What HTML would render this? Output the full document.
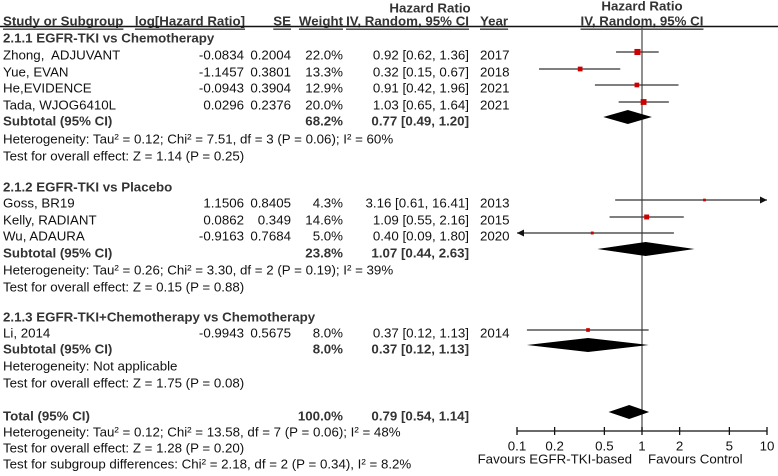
<!DOCTYPE html>
<html><head><meta charset="utf-8"><style>
html,body{margin:0;padding:0;background:#fff;}
svg{display:block;font-family:"Liberation Sans",Arial,sans-serif;font-size:13.3px;}
.b{font-weight:bold;fill:#333;}
text{fill:#111;}
</style></head><body>
<svg id="chart" width="778" height="476" viewBox="0 0 778 476" xmlns="http://www.w3.org/2000/svg">
<g>
<text class="b" x="430" y="8" text-anchor="middle" dominant-baseline="central">Hazard Ratio</text>
<text class="b" x="3" y="21" dominant-baseline="central" text-decoration="underline">Study or Subgroup</text>
<text class="b" x="245" y="21" text-anchor="end" dominant-baseline="central" text-decoration="underline">log[Hazard Ratio]</text>
<text class="b" x="291" y="21" text-anchor="end" dominant-baseline="central" text-decoration="underline">SE</text>
<text class="b" x="343" y="21" text-anchor="end" dominant-baseline="central" text-decoration="underline">Weight</text>
<text class="b" x="469" y="21" text-anchor="end" dominant-baseline="central" text-decoration="underline">IV, Random, 95% CI</text>
<text class="b" x="480" y="21" dominant-baseline="central" text-decoration="underline">Year</text>
<text class="b" x="642" y="6" text-anchor="middle" dominant-baseline="central">Hazard Ratio</text>
<text class="b" x="642" y="21" text-anchor="middle" dominant-baseline="central" text-decoration="underline">IV, Random, 95% CI</text>
</g>
<line x1="0" y1="26.5" x2="778" y2="26.5" stroke="#111" stroke-width="1.5"/>
<line x1="642" y1="27" x2="642" y2="431" stroke="#555" stroke-width="1.3"/>
<g id="text-layer"></g>
<g id="marks"></g>
<g id="axis"></g>
</svg>
<script>
const studies = ["Zhong,\u00a0 ADJUVANT","Yue, EVAN","He,EVIDENCE","Tada, WJOG6410L","Goss, BR19","Kelly, RADIANT","Wu, ADAURA","Li, 2014"];
const logHR = ["-0.0834","-1.1457","-0.0943","0.0296","1.1506","0.0862","-0.9163","-0.9943"];
const seVals = ["0.2004","0.3801","0.3904","0.2376","0.8405","0.349","0.7684","0.5675"];
const weights = [22.0,13.3,12.9,20.0,4.3,14.6,5.0,8.0];
const hr = [0.92,0.32,0.91,1.03,3.16,1.09,0.40,0.37];
const lo = [0.62,0.15,0.42,0.65,0.61,0.55,0.09,0.12];
const hi = [1.36,0.67,1.96,1.64,16.41,2.16,1.80,1.13];
const years = ["2017","2018","2021","2021","2013","2015","2020","2014"];
const studyRowY = [55,72,88,105,203,220,236,333];
const subNames = ["Subtotal (95% CI)","Subtotal (95% CI)","Subtotal (95% CI)","Total (95% CI)"];
const subWeights = ["68.2%","23.8%","8.0%","100.0%"];
const subHR = [0.77,1.07,0.37,0.79];
const subLo = [0.49,0.44,0.12,0.54];
const subHi = [1.20,2.63,1.13,1.14];
const subRowY = [121,253,349,416];
const ticks = [0.1,0.2,0.5,1,2,5,10];
const tickLabels = ["0.1","0.2","0.5","1","2","5","10"];
const notes = [
 [38,"2.1.1 EGFR-TKI vs Chemotherapy",true],
 [139,"Heterogeneity: Tau² = 0.12; Chi² = 7.51, df = 3 (P = 0.06); I² = 60%",false],
 [156,"Test for overall effect: Z = 1.14 (P = 0.25)",false],
 [187,"2.1.2 EGFR-TKI vs Placebo",true],
 [270,"Heterogeneity: Tau² = 0.26; Chi² = 3.30, df = 2 (P = 0.19); I² = 39%",false],
 [287,"Test for overall effect: Z = 0.15 (P = 0.88)",false],
 [317,"2.1.3 EGFR-TKI+Chemotherapy vs Chemotherapy",true],
 [366,"Heterogeneity: Not applicable",false],
 [383,"Test for overall effect: Z = 1.75 (P = 0.08)",false],
 [432,"Heterogeneity: Tau² = 0.12; Chi² = 13.58, df = 7 (P = 0.06); I² = 48%",false],
 [448,"Test for overall effect: Z = 1.28 (P = 0.20)",false],
 [464,"Test for subgroup differences: Chi² = 2.18, df = 2 (P = 0.34), I² = 8.2%",false]
];
const NS="http://www.w3.org/2000/svg";
const X0=642, DEC=125, XMIN=517, XMAX=767, AXY=431;
function xs(v){return X0+DEC*Math.log10(v);}
function fmt(v){return v.toFixed(2);}
function mk(tag,attrs,parent,txt){const e=document.createElementNS(NS,tag);for(const k in attrs)e.setAttribute(k,attrs[k]);if(txt!==undefined)e.textContent=txt;parent.appendChild(e);return e;}
const T=document.getElementById('text-layer'), M=document.getElementById('marks'), A=document.getElementById('axis');
function txt(x,y,s,anchor,bold,name){const e=mk('text',{x:x,y:y,'text-anchor':anchor||'start','dominant-baseline':'central'},T,s);if(bold)e.setAttribute('class','b');


return e;}
notes.forEach(n=>{txt(3,n[0],n[1],'start',n[2],n[2]?'subgroup-title':'stat-note');});
studies.forEach((s,i)=>{const y=studyRowY[i];
 txt(3,y,s,'start',false,'study-name');
 txt(244,y,logHR[i],'end',false,'log-hr-value');
 txt(291,y,seVals[i],'end',false,'se-value');
 txt(343,y,weights[i].toFixed(1)+'%','end',false,'weight-value');
 txt(469,y,fmt(hr[i])+' ['+fmt(lo[i])+', '+fmt(hi[i])+']','end',false,'hr-ci-value');
 txt(480,y,years[i],'start',false,'study-year');
 const my=y-3;
 const x1=Math.max(XMIN,xs(lo[i])), x2=Math.min(XMAX,xs(hi[i]));
 const ln=mk('line',{x1:x1,y1:my,x2:x2,y2:my,stroke:'#333','stroke-width':1.3},M);
 
 
 if(hi[i]>10){const p=mk('polygon',{points:(XMAX)+','+my+' '+(XMAX-7)+','+(my-3.5)+' '+(XMAX-7)+','+(my+3.5),fill:'#111'},M);
  
  }
 if(lo[i]<0.1){const p=mk('polygon',{points:(XMIN)+','+my+' '+(XMIN+7)+','+(my-3.5)+' '+(XMIN+7)+','+(my+3.5),fill:'#111'},M);
  
  }
 const sz=Math.sqrt(weights[i])*1.3;
 const r=mk('rect',{x:xs(hr[i])-sz/2,y:my-sz/2,width:sz,height:sz,fill:'#cc0000'},M);
 
 
});
subNames.forEach((s,i)=>{const y=subRowY[i];
 txt(3,y,s,'start',true,'subtotal-label');
 txt(343,y,subWeights[i],'end',true,'subtotal-weight');
 txt(469,y,fmt(subHR[i])+' ['+fmt(subLo[i])+', '+fmt(subHi[i])+']','end',true,'subtotal-hr');
 const my=y-4;
 const d=mk('polygon',{points:xs(subLo[i])+','+my+' '+xs(subHR[i])+','+(my-7)+' '+xs(subHi[i])+','+my+' '+xs(subHR[i])+','+(my+7),fill:'#000'},M);
 
 
});
const al=mk('line',{x1:XMIN,y1:AXY,x2:XMAX,y2:AXY,stroke:'#111','stroke-width':1.3},A);


ticks.forEach((t,i)=>{const x=xs(t);
 const tk=mk('line',{x1:x,y1:AXY-4,x2:x,y2:AXY+4,stroke:'#111','stroke-width':1.3},A);
 
 
 const l=mk('text',{x:x,y:AXY+15,'text-anchor':'middle','dominant-baseline':'central'},A,tickLabels[i]);
 
 
});
const f1=mk('text',{x:632,y:459,'text-anchor':'end','dominant-baseline':'central',fill:'#333'},A,'Favours EGFR-TKI-based');


const f2=mk('text',{x:648,y:459,'text-anchor':'start','dominant-baseline':'central',fill:'#333'},A,'Favours Control');


</script>
</body></html>
